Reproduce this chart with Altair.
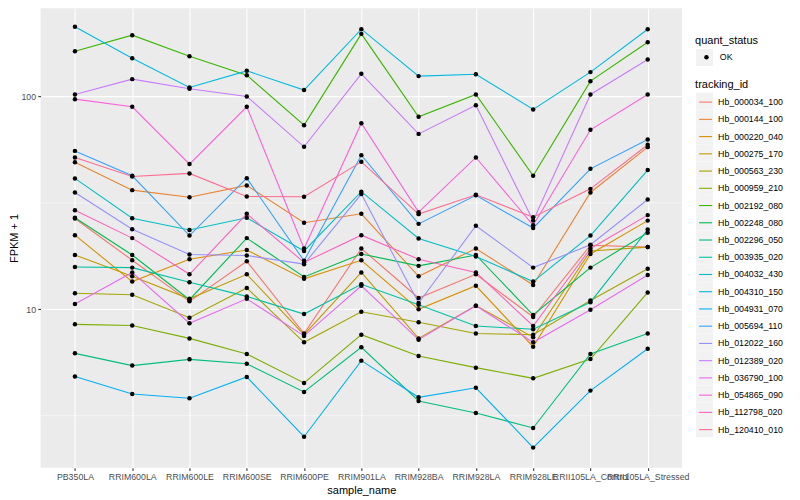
import altair as alt
import pandas as pd

samples = ["PB350LA", "RRIM600LA", "RRIM600LE", "RRIM600SE", "RRIM600PE",
           "RRIM901LA", "RRIM928BA", "RRIM928LA", "RRIM928LE",
           "RRII105LA_Control", "RRII105LA_Stressed"]

tracking_ids = ["Hb_000034_100", "Hb_000144_100", "Hb_000220_040", "Hb_000275_170",
                "Hb_000563_230", "Hb_000959_210", "Hb_002192_080", "Hb_002248_080",
                "Hb_002296_050", "Hb_003935_020", "Hb_004032_430", "Hb_004310_150",
                "Hb_004931_070", "Hb_005694_110", "Hb_012022_160", "Hb_012389_020",
                "Hb_036790_100", "Hb_054865_090", "Hb_112798_020", "Hb_120410_010"]

hue_colors = ["#F8766D", "#EA8331", "#D89000", "#C09B00", "#A3A500", "#7CAE00",
              "#39B600", "#00BB4E", "#00BF7D", "#00C1A3", "#00BFC4", "#00BAE0",
              "#00B0F6", "#35A2FF", "#9590FF", "#C77CFF", "#E76BF3", "#FA62DB",
              "#FF62BC", "#FF6C91"]

# FPKM + 1 per sample (same order as samples)
hb_000034_100 = [26.7, 17.0, 10.9, 16.8, 7.7, 19.3, 11.3, 14.6, 9.2, 20.0, 19.6]
hb_000144_100 = [49.1, 36.3, 33.6, 38.2, 25.5, 28.1, 14.3, 19.3, 13.0, 35.4, 57.8]
hb_000220_040 = [22.3, 13.5, 17.2, 19.0, 13.9, 17.0, 10.0, 12.9, 6.67, 18.2, 26.1]
hb_000275_170 = [18.0, 14.3, 11.2, 14.6, 7.6, 14.9, 7.3, 10.4, 7.4, 18.8, 19.6]
hb_000563_230 = [11.9, 11.7, 9.13, 12.6, 7.0, 9.74, 8.7, 7.7, 7.6, 11.0, 15.5]
hb_000959_210 = [8.5, 8.4, 7.3, 6.17, 4.51, 7.6, 6.04, 5.32, 4.74, 5.84, 12.0]
hb_002192_080 = [163.2, 194.0, 154.6, 125.9, 73.3, 196.8, 80.2, 102.2, 42.4, 118.0, 179.8]
hb_002248_080 = [26.9, 18.0, 11.1, 21.6, 14.2, 18.2, 16.0, 18.0, 9.4, 15.7, 22.9]
hb_002296_050 = [6.21, 5.44, 5.82, 5.55, 4.09, 6.63, 3.71, 3.26, 2.77, 6.17, 7.7]
hb_003935_020 = [15.8, 15.7, 13.4, 11.5, 9.5, 13.1, 10.5, 8.35, 8.06, 10.8, 23.7]
hb_004032_430 = [41.2, 26.8, 23.6, 26.9, 18.8, 35.7, 21.5, 17.7, 13.5, 22.2, 45.1]
hb_004310_150 = [212.3, 151.3, 110.2, 131.9, 107.1, 207.0, 124.6, 127.2, 86.9, 130.1, 207.0]
hb_004931_070 = [4.83, 4.00, 3.82, 4.81, 2.52, 5.74, 3.86, 4.28, 2.24, 4.15, 6.53]
hb_005694_110 = [55.5, 42.4, 22.2, 41.3, 16.9, 53.0, 25.2, 34.3, 24.1, 45.7, 62.8]
hb_012022_160 = [35.4, 23.8, 18.1, 17.9, 16.3, 34.8, 10.7, 24.7, 15.7, 20.1, 32.8]
hb_012389_020 = [102.2, 120.6, 108.6, 100.0, 58.0, 127.7, 66.7, 91.0, 26.1, 102.2, 149.2]
hb_036790_100 = [10.6, 14.9, 8.6, 11.2, 7.5, 12.9, 7.2, 10.4, 7.0, 9.96, 14.5]
hb_054865_090 = [97.1, 89.4, 48.1, 89.4, 19.3, 74.9, 28.6, 51.7, 24.8, 69.7, 102.2]
hb_112798_020 = [29.2, 21.6, 14.6, 28.1, 16.6, 22.3, 17.2, 14.9, 8.35, 19.3, 27.7]
hb_120410_010 = [51.7, 42.1, 43.5, 33.9, 33.8, 49.3, 28.0, 34.5, 27.1, 36.8, 59.3]

series = [hb_000034_100, hb_000144_100, hb_000220_040, hb_000275_170, hb_000563_230,
          hb_000959_210, hb_002192_080, hb_002248_080, hb_002296_050, hb_003935_020,
          hb_004032_430, hb_004310_150, hb_004931_070, hb_005694_110, hb_012022_160,
          hb_012389_020, hb_036790_100, hb_054865_090, hb_112798_020, hb_120410_010]

y_major = [10, 100]
y_minor = [3.1623, 31.623]
y_domain = [1.80, 259.8]

rows = []
for tid, vals in zip(tracking_ids, series):
    for s, v in zip(samples, vals):
        rows.append({"tracking_id": tid, "sample_name": s, "value": v, "quant_status": "OK"})
df = pd.DataFrame(rows)
minor_df = pd.DataFrame({"value": y_minor})

FONT = "Liberation Sans"
KEY_GREY = "#F2F2F2"
LEG_X = 655

x_enc = alt.X("sample_name:N", sort=samples,
              scale=alt.Scale(type="point", padding=0.6),
              axis=alt.Axis(title="sample_name", grid=True, gridColor="white", gridWidth=1.07,
                            tickSize=2.75, tickColor="#333333", tickWidth=1.07,
                            labelAngle=0, labelFontSize=8.8, labelColor="#4D4D4D",
                            labelPadding=2.2, labelOverlap=False,
                            titleFontSize=11, titleFontWeight="normal", titleColor="black",
                            titlePadding=2.5, domain=False))

y_axis = alt.Axis(title="FPKM + 1", values=y_major, format="d", grid=True, gridColor="white",
                  gridWidth=1.07, tickSize=2.75, tickColor="#333333", tickWidth=1.07,
                  labelFontSize=8.8, labelColor="#4D4D4D", labelPadding=2.2,
                  titleFontSize=11, titleFontWeight="normal", titleColor="black",
                  titlePadding=1.5, domain=False)
y_scale = alt.Scale(type="log", domain=y_domain, nice=False, zero=False)
y_enc = alt.Y("value:Q", scale=y_scale, axis=y_axis)

common_leg = dict(orient="none", legendX=LEG_X, padding=0,
                  titleFontSize=11, titleFontWeight="normal", titleColor="black",
                  labelFontSize=8.8, labelColor="black")

minor = alt.Chart(minor_df).mark_rule(color="white", strokeWidth=0.53).encode(y=y_enc)

# grey key boxes behind the legend entries (ggplot legend.key)
key_track = alt.Chart(df).mark_point(shape="square", filled=True, color=KEY_GREY, opacity=0).encode(
    x=x_enc, y=y_enc,
    shape=alt.Shape("tracking_id:N",
                    scale=alt.Scale(domain=tracking_ids, range=["square"] * len(tracking_ids)),
                    legend=alt.Legend(title="", legendY=84.5, symbolSize=289,
                                      symbolFillColor=KEY_GREY, symbolStrokeWidth=0,
                                      symbolOpacity=1, symbolOffset=1, rowPadding=0.25,
                                      labelExpr="''", labelOffset=0, zindex=0, **common_leg)),
)

key_status = alt.Chart(df).mark_point(shape="square", filled=True, color=KEY_GREY, opacity=0).encode(
    x=x_enc, y=y_enc,
    shape=alt.Shape("quant_status:N", scale=alt.Scale(domain=["OK"], range=["square"]),
                    legend=alt.Legend(title="", legendY=40.8, symbolSize=289,
                                      symbolFillColor=KEY_GREY, symbolStrokeWidth=0,
                                      symbolOpacity=1, symbolOffset=1,
                                      labelExpr="''", labelOffset=0, zindex=0, **common_leg)),
)

lines = alt.Chart(df).mark_line(strokeWidth=1.1).encode(
    x=x_enc, y=y_enc,
    stroke=alt.Stroke("tracking_id:N",
                      scale=alt.Scale(domain=tracking_ids, range=hue_colors),
                      legend=alt.Legend(title="tracking_id", legendY=70.5,
                                        symbolType="stroke", symbolSize=169, symbolStrokeWidth=1.1,
                                        rowPadding=4.25, titlePadding=5, labelOffset=5,
                                        symbolOffset=3, zindex=1, **common_leg)),
    detail="tracking_id:N",
)

points = alt.Chart(df).mark_circle(size=20, opacity=1).encode(
    x=x_enc, y=y_enc,
    fill=alt.Fill("quant_status:N", scale=alt.Scale(domain=["OK"], range=["black"]),
                  legend=alt.Legend(title="quant_status", legendY=27,
                                    symbolType="circle", symbolSize=20, symbolFillColor="black",
                                    symbolOpacity=1, titlePadding=6.7, labelOffset=9,
                                    symbolOffset=7, zindex=1, **common_leg)),
)

chart = alt.layer(minor, key_track, key_status, lines, points).resolve_scale(
    shape="independent"
).properties(
    width=642, height=460,
    autosize=alt.AutoSizeParams(type="none"),
    padding={"left": 32.6, "top": 0, "right": 110, "bottom": 32},
    background="white",
).configure(font=FONT).configure_view(fill="#EBEBEB", strokeWidth=0)

chart.save("out.html", embed_options={"renderer": "svg", "actions": False})
